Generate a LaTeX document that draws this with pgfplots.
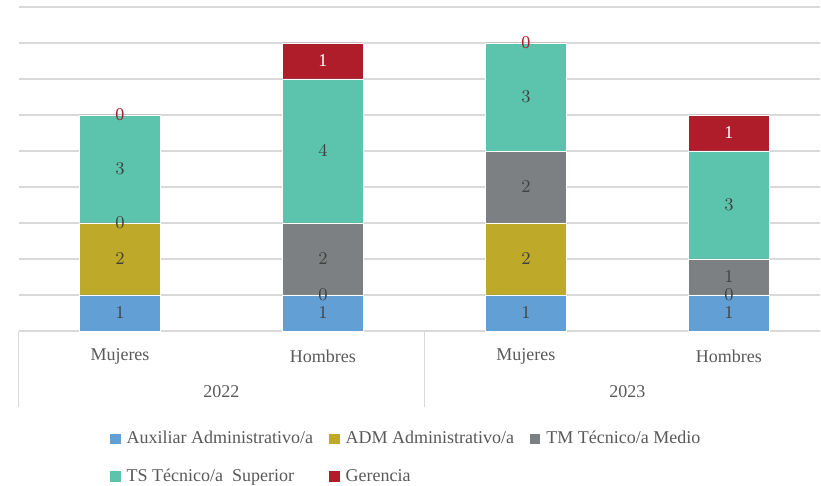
\documentclass[border=0pt]{standalone}
\usepackage{pgfplots}
\pgfplotsset{compat=1.18}
\usepackage{pgfplotstable}
\usepackage{fontspec}
\setmainfont{Liberation Serif}

\definecolor{auxblue}{RGB}{98,159,213}
\definecolor{admolive}{RGB}{191,169,41}
\definecolor{tmgray}{RGB}{125,128,130}
\definecolor{tsteal}{RGB}{92,196,172}
\definecolor{gerred}{RGB}{175,29,43}
\definecolor{gridgray}{RGB}{217,217,217}
\definecolor{labgray}{RGB}{64,64,64}
\definecolor{tickgray}{RGB}{89,89,89}

\newcommand\gz{\textcolor{gerred}{0}}
\newcommand\go{\textcolor{white}{1}}

% x: 0=2022 Mujeres, 1=2022 Hombres, 2=2023 Mujeres, 3=2023 Hombres
% zeros are stored as 0.001 so that their "0" labels are still drawn
\pgfplotstableread{
x v
0 1
1 1
2 1
3 1
}\auxdata
\pgfplotstableread{
x v
0 2
1 0.001
2 2
3 0.001
}\admdata
\pgfplotstableread{
x v
0 0.001
1 2
2 2
3 1
}\tmdata
\pgfplotstableread{
x v
0 3
1 4
2 3
3 3
}\tsdata
\pgfplotstableread{
x v lab
0 0.001 \gz
1 1 \go
2 0.001 \gz
3 1 \go
}\gerdata

\begin{document}
\begin{tikzpicture}
\useasboundingbox (-9.25pt,-77.5pt) rectangle (401.25pt,165.5pt);
\begin{axis}[
    at={(0,0)}, anchor=south west,
    scale only axis,
    width=400.9pt, height=162pt,
    xmin=-0.5, xmax=3.45,
    ymin=0, ymax=9,
    ybar stacked,
    bar width=40.5pt,
    axis line style={draw=none},
    ytick={0,...,9},
    yticklabels={},
    ymajorgrids,
    grid style={draw=gridgray, line width=0.8pt},
    xtick={0,1,2,3},
    xticklabels={Mujeres,Hombres,Mujeres,Hombres},
    major tick length=0pt,
    xticklabel style={anchor=center, yshift=-12.5pt, font=\fontsize{9}{11}\selectfont, text=tickgray},
    point meta=explicit,
    visualization depends on={\thisrow{v} \as \segval},
    nodes near coords={\pgfmathprintnumber[fixed,precision=0]{\segval}},
    every node near coord/.append style={anchor=center,
        font=\fontsize{9}{11}\selectfont, text=labgray},
    clip=false,
    legend columns=3,
    legend cell align=left,
    legend image code/.code={\fill[#1,draw=none] (0pt,-2.6pt) rectangle (5.2pt,2.6pt);},
    legend style={at={(0.114,-0.296)}, anchor=north west, draw=none, inner sep=0pt,
        font=\fontsize{9}{11}\selectfont, text=tickgray,
        /tikz/column sep=1pt, row sep=7pt,
        /tikz/every even column/.append style={column sep=6pt}},
]
\addplot[fill=auxblue, draw=white, line width=0.3pt] table[x=x, y=v, meta=v] {\auxdata};
\addlegendentry{Auxiliar Administrativo/a}
\addplot[fill=admolive, draw=white, line width=0.3pt] table[x=x, y=v, meta=v] {\admdata};
\addlegendentry{ADM Administrativo/a\hspace{8pt}}
\addplot[fill=tmgray, draw=white, line width=0.3pt] table[x=x, y=v, meta=v] {\tmdata};
\addlegendentry{TM Técnico/a Medio}
\addplot[fill=tsteal, draw=white, line width=0.3pt] table[x=x, y=v, meta=v] {\tsdata};
\addlegendentry{TS Técnico/a\ \ Superior}
\addplot[fill=gerred, draw=white, line width=0.3pt,
    point meta=explicit symbolic, nodes near coords]
    table[x=x, y=v, meta=lab] {\gerdata};
\addlegendentry{Gerencia}

\draw[gridgray, line width=0.8pt] (axis cs:-0.5,0) -- ++(0pt,-38pt);
\draw[gridgray, line width=0.8pt] (axis cs:1.5,0) -- ++(0pt,-38pt);
\node[text=tickgray, font=\fontsize{9}{11}\selectfont, yshift=-30.5pt] at (axis cs:0.5,0) {2022};
\node[text=tickgray, font=\fontsize{9}{11}\selectfont, yshift=-30.5pt] at (axis cs:2.5,0) {2023};
\end{axis}
\end{tikzpicture}
\end{document}
